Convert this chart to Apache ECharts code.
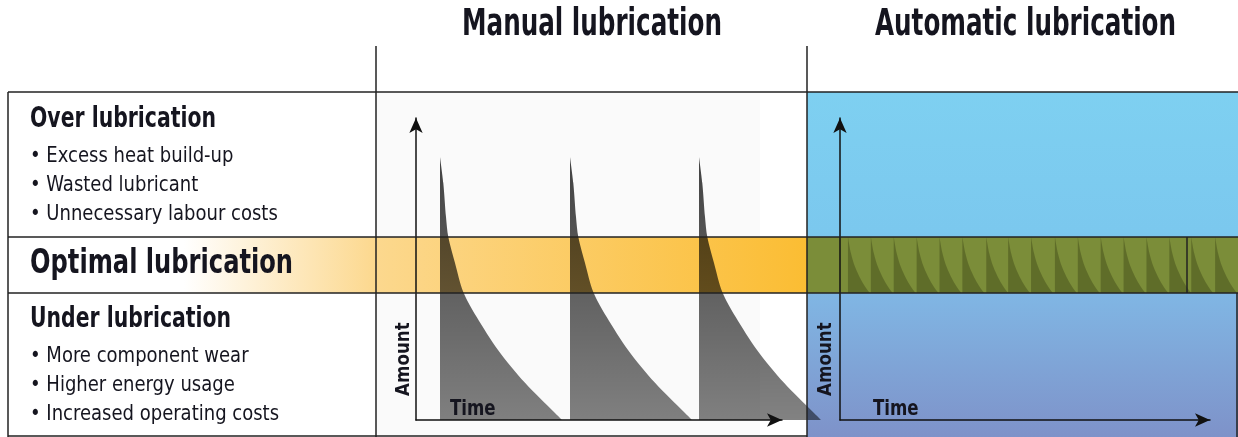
<!DOCTYPE html>
<html>
<head>
<meta charset="UTF-8">
<title>Manual vs automatic lubrication</title>
<script src="https://cdn.jsdelivr.net/npm/echarts@6/dist/echarts.min.js"></script>
<style>
  html, body { margin: 0; padding: 0; background: #fff; }
  #chart { width: 1238px; height: 437px; }
</style>
</head>
<body>
<div id="chart"></div>
<script>
// decay of one manual greasing: [time offset, amount]
var manualShape = [[0, 87.1], [0.33, 78.5], [0.6, 67.2], [0.83, 60.6], [1.5, 52.0], [2.33, 42.4],
  [3.67, 34.1], [5.8, 23.2], [8.5, 12.3], [11.5, 2.3], [12.2, 0]];
var manualStarts = [2.4, 15.4, 28.3];

// small automatic doses kept inside the optimal band
var autoShape = [[0, 60.6], [0.3, 55.2], [0.7, 50.8], [1.3, 46.5], [1.9, 43.3], [2.2, 42.1]];
var autoStarts = [0.8, 3.1, 5.4, 7.7, 10.0, 12.3, 14.7, 16.9, 19.2, 21.6, 23.9, 26.2, 28.5, 30.8, 33.1, 35.3, 37.7];
var bandLow = 42.1;

var headings = ['Manual lubrication', 'Automatic lubrication'];
var overItems = ['• Excess heat build-up', '• Wasted lubricant', '• Unnecessary labour costs'];
var underItems = ['• More component wear', '• Higher energy usage', '• Increased operating costs'];

var chart = echarts.init(document.getElementById('chart'));
var FONT = '"Liberation Sans Narrow", "DejaVu Sans Condensed", "Roboto", sans-serif';
var INK = '#15151f';

function shifted(shape, start) {
  return shape.map(function (p) { return [p[0] + start, p[1]]; });
}

function axis(grid, max, visible) {
  return {
    gridIndex: grid, type: 'value', min: 0, max: max, z: 5, show: visible,
    axisLine: { show: true, onZero: false, symbol: ['none', 'arrow'], symbolSize: [10, 15],
      lineStyle: { color: '#111', width: 1.5 } },
    axisTick: { show: false }, axisLabel: { show: false }, splitLine: { show: false }
  };
}

var series = [];
manualStarts.forEach(function (s) {
  series.push({
    type: 'line', xAxisIndex: 2, yAxisIndex: 2, data: shifted(manualShape, s),
    symbol: 'none', smooth: 0.3, silent: true, z: 3,
    lineStyle: { width: 0 },
    areaStyle: { origin: 0, opacity: 1, color: new echarts.graphic.LinearGradient(0, 0, 0, 1, [
      { offset: 0, color: 'rgba(0,0,0,0.74)' }, { offset: 1, color: 'rgba(0,0,0,0.49)' }]) }
  });
});
autoStarts.forEach(function (s) {
  series.push({
    type: 'line', xAxisIndex: 3, yAxisIndex: 3, data: shifted(autoShape, s),
    symbol: 'none', smooth: 0.3, silent: true, z: 3,
    lineStyle: { width: 0 },
    areaStyle: { origin: bandLow, opacity: 1, color: 'rgba(25,30,0,0.28)' }
  });
});

function line(x1, y1, x2, y2) {
  return { type: 'line', z: 20, shape: { x1: x1, y1: y1, x2: x2, y2: y2 },
    style: { stroke: '#222', lineWidth: 1.5 } };
}
function text(str, x, y, size, bold, sx, rot) {
  return { type: 'text', x: x, y: y, z: 20, scaleX: sx || 1, rotation: rot || 0,
    style: { text: str, fill: INK, font: (bold ? 'bold ' : '') + size + 'px ' + FONT, verticalAlign: 'bottom' } };
}

var graphics = [
  { type: 'rect', z: 0, shape: { x: 376, y: 92, width: 384, height: 345 }, style: { fill: '#fafafa' } },
  { type: 'rect', z: 0, shape: { x: 8, y: 237, width: 799, height: 56 },
    style: { fill: new echarts.graphic.LinearGradient(0, 0, 1, 0, [
      { offset: 0, color: '#ffffff' }, { offset: 0.22, color: '#ffffff' },
      { offset: 0.46, color: '#fcd88e' }, { offset: 1, color: '#fbbd33' }]) } },
  { type: 'rect', z: 0, shape: { x: 807, y: 92, width: 431, height: 345 },
    style: { fill: new echarts.graphic.LinearGradient(0, 0, 0, 1, [
      { offset: 0, color: '#7ed0f1' }, { offset: 0.4, color: '#7bc8ee' },
      { offset: 0.6, color: '#80b5e3' }, { offset: 1, color: '#7e92c9' }]) } },
  { type: 'rect', z: 0, shape: { x: 807, y: 237, width: 431, height: 56 }, style: { fill: '#7b8d39' } },

  line(8, 92, 1238, 92), line(8, 92, 8, 437), line(376, 46, 376, 437), line(807, 46, 807, 437),
  line(8, 237, 1238, 237), line(8, 293, 1238, 293), line(8, 436, 807, 436),
  line(1187, 237, 1187, 293), line(1237, 293, 1237, 437),

  text(headings[0], 462, 44, 37, true, 0.74),
  text(headings[1], 875, 44, 37, true, 0.74),
  text('Over lubrication', 30, 134, 28, true, 0.81),
  text('Optimal lubrication', 30, 281, 34, true, 0.79),
  text('Under lubrication', 30, 334, 28, true, 0.81),
  text('Amount', 414, 396, 20, true, 0.93, Math.PI / 2),
  text('Amount', 836, 396, 20, true, 0.93, Math.PI / 2),
  text('Time', 450, 420, 21, true, 0.88),
  text('Time', 873, 420, 21, true, 0.88)
];
overItems.forEach(function (s, i) { graphics.push(text(s, 30, 167 + i * 29, 22, false, 0.91)); });
underItems.forEach(function (s, i) { graphics.push(text(s, 30, 367 + i * 29, 22, false, 0.91)); });

chart.setOption({
  animation: false,
  grid: [
    { left: 416, top: 118, width: 366, height: 302 },
    { left: 840, top: 118, width: 370, height: 302 },
    { left: 416, top: 118, width: 440, height: 302 },
    { left: 840, top: 118, width: 400, height: 302 }
  ],
  xAxis: [axis(0, 36.6, true), axis(1, 37, true), axis(2, 44, false), axis(3, 40, false)],
  yAxis: [axis(0, 100, true), axis(1, 100, true), axis(2, 100, false), axis(3, 100, false)],
  series: series,
  graphic: graphics
});
</script>
</body>
</html>
